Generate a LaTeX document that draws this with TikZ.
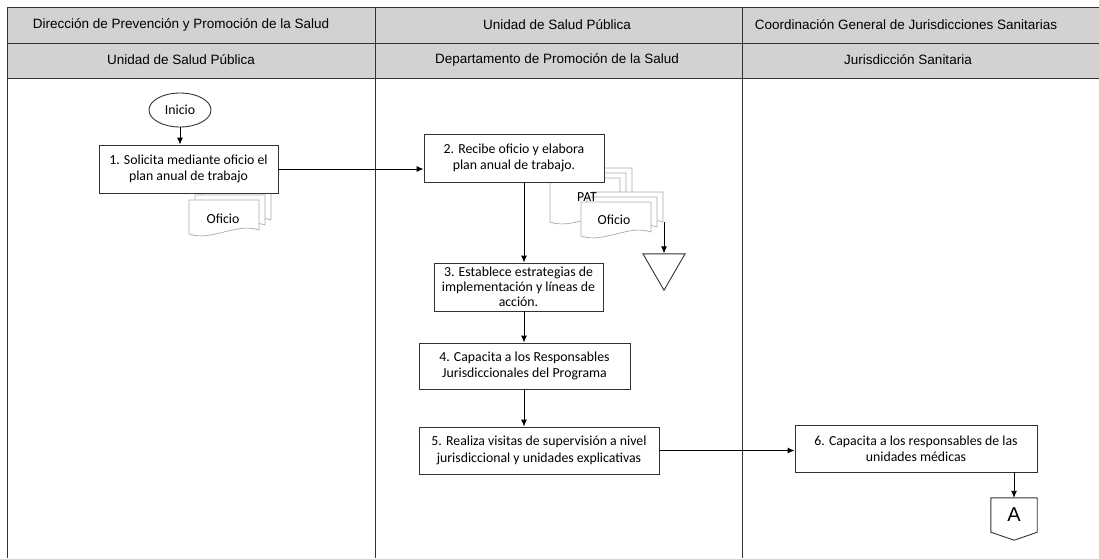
\documentclass[tikz,border=0pt]{standalone}
\usepackage{fontspec}
\setmainfont{Carlito}
\newfontfamily\hdrfont{Liberation Sans}
\usetikzlibrary{shapes.geometric,arrows.meta}
\definecolor{hdrgray}{RGB}{210,210,210}
\definecolor{docgray}{RGB}{170,170,170}
\definecolor{lanegray}{RGB}{50,50,50}

% one sheet of a document stack, top left corner at (#2,#3), height #1
\newcommand{\docpage}[3][34]{%
  \draw[docpg] (#2,#3) -- (#2+70,#3) -- (#2+70,#3+#1-4)
    .. controls (#2+48,#3+#1-12) and (#2+22,#3+#1+8) .. (#2,#3+#1) -- cycle;}
\newcommand{\docstack}[3][34]{%
  \docpage[#1]{#2+12}{#3-10}\docpage[#1]{#2+6}{#3-5}\docpage[#1]{#2}{#3}}

\begin{document}
\begin{tikzpicture}[x=1pt,y=-1pt]
		\tikzstyle{every node}=[font=\fontsize{13.8}{16.5}\selectfont];
		\tikzstyle{hdr}=[font=\hdrfont\fontsize{13.5}{16}\selectfont];
		\tikzstyle{task}=[draw=lanegray,line width=0.9pt,fill=white,align=center,inner sep=0pt];
		\tikzstyle{docpg}=[draw=docgray,fill=white,line width=0.7pt];
		\tikzstyle{flow}=[-{Latex[length=7pt,width=6pt]},line width=0.9pt];
		\useasboundingbox (0,0) rectangle (1099,558);
		
		% header
		\fill[hdrgray] (7,7) rectangle (1099,78);
		\draw[lanegray,line width=1pt]
		(1099,7) -- (7,7) -- (7,558)
		(7,43) -- (1099,43)
		(7,78) -- (1099,78)
		(375,7) -- (375,558)
		(742,7) -- (742,558);
		\node[hdr] (d1) at (181,25) {Dirección de Prevención y Promoción de la Salud};
		\node[hdr] (d2) at (557,25) {Unidad de Salud Pública};
		\node[hdr] (d3) at (906,25) {Coordinación General de Jurisdicciones Sanitarias};
		\node[hdr] (u1) at (181,60) {Unidad de Salud Pública};
		\node[hdr] (u2) at (557,60) {Departamento de Promoción de la Salud};
		\node[hdr] (u3) at (908,60) {Jurisdicción Sanitaria};
		
		% documents
		\docstack{189}{200}
		\docstack[44]{550}{178}
		\docstack{581}{202}
		\node (ofi1) at (223,219) {Oficio};
		\node (pat) at (587,197) {PAT};
		\node (ofi2) at (614,220) {Oficio};
		
		% activities
		\node[draw=lanegray,line width=0.9pt,ellipse,minimum width=62pt,minimum height=34pt,inner sep=0pt] (ini) at (180,110) {Inicio};
		\node[task,minimum width=179pt,minimum height=48pt] (s1) at (188.5,169) {1. Solicita mediante oficio el\\plan anual de trabajo};
		\node[task,minimum width=180pt,minimum height=48pt] (s2) at (514,158) {2. Recibe oficio y elabora\\plan anual de trabajo.};
		\node[task,minimum width=169pt,minimum height=48pt,font=\fontsize{13.8}{15}\selectfont] (s3) at (518.5,287) {3. Establece estrategias de\\implementación y líneas de\\acción.};
		\node[task,minimum width=211pt,minimum height=46pt] (s4) at (524.5,366) {4. Capacita a los Responsables\\Jurisdiccionales del Programa};
		\node[task,minimum width=240pt,minimum height=47pt] (s5) at (539,450.5) {5. Realiza visitas de supervisión a nivel\\jurisdiccional y unidades explicativas};
		\node[task,minimum width=242pt,minimum height=47pt] (s6) at (916,448.5) {6. Capacita a los responsables de las\\unidades médicas};
		\node[draw=lanegray,line width=0.9pt,regular polygon,regular polygon sides=3,shape border rotate=180,minimum size=48.5pt,inner sep=0pt] (arch) at (664,266) {};
		\node[font=\hdrfont\fontsize{20}{22}\selectfont,minimum width=46pt,minimum height=34pt,inner sep=0pt] (conA) at (1014,515) {A};
		\draw[lanegray,line width=0.9pt] (conA.north west) -- (conA.north east) -- (conA.south east) -- ++(-23,8) -- (conA.south west) -- cycle;
		
		\coordinate (spine) at (524,0);
		\coordinate (ofiout) at (664,222);
		\draw[flow]
		(ini.south) -- (ini.south |- s1.north);
		\draw[flow]
		(s1.east) -- (s1.east -| s2.west);
		\draw[flow]
		(s2.south -| spine) -- (s3.north -| spine);
		\draw[flow]
		(s3.south -| spine) -- (s4.north -| spine);
		\draw[flow]
		(s4.south -| spine) -- (s5.north -| spine);
		\draw[flow]
		(s5.east) -- (s5.east -| s6.west);
		\draw[flow]
		(s6.south -| conA) -- (conA.north);
		\draw[flow]
		(ofiout) -- (arch.north);
	\end{tikzpicture}
\end{document}
